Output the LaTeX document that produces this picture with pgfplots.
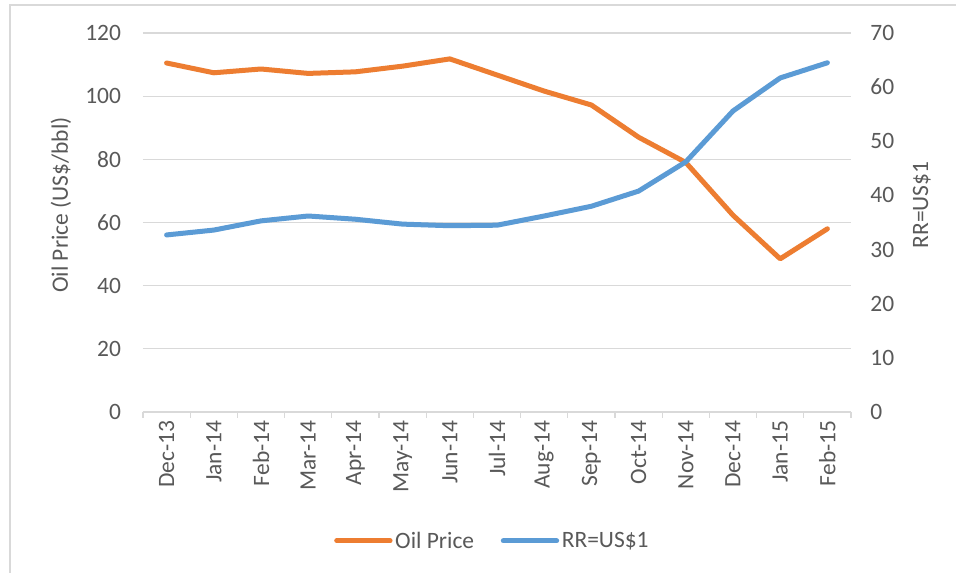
\documentclass[border=0pt]{standalone}
\usepackage{fontspec}
\setmainfont{Carlito}
\usepackage{pgfplots}
\pgfplotsset{compat=1.18}
\definecolor{oilc}{HTML}{ED7D31}
\definecolor{rrc}{HTML}{5B9BD5}
\definecolor{txt}{HTML}{595959}
\definecolor{grd}{HTML}{D9D9D9}
\newcommand{\fs}{\fontsize{17.6}{20}\selectfont}
\pgfplotstableread{
x oil rr
0 110.5 32.7
1 107.4 33.6
2 108.6 35.3
3 107.2 36.2
4 107.7 35.6
5 109.5 34.7
6 111.8 34.4
7 106.7 34.5
8 101.6 36.2
9 97.2 38.0
10 87.0 40.8
11 79.0 46.2
12 62.3 55.6
13 48.5 61.7
14 58.0 64.5
}\datatable
\begin{document}
\begin{tikzpicture}
\path[use as bounding box, clip] (0pt,0pt) rectangle (717pt,429.75pt);
\fill[white] (0pt,0pt) rectangle (717pt,429.75pt);
\draw[grd, line width=1.2pt] (7.5pt,-20pt) rectangle (740pt,426pt);
\begin{axis}[
  at={(107.25pt,120.75pt)}, anchor=south west,
  width=531pt, height=284.25pt, scale only axis,
  xmin=-0.5, xmax=14.5, ymin=0, ymax=120,
  ytick={0,20,...,120},
  xtick={0,...,14},
  xticklabels={Dec-13,Jan-14,Feb-14,Mar-14,Apr-14,May-14,Jun-14,Jul-14,Aug-14,Sep-14,Oct-14,Nov-14,Dec-14,Jan-15,Feb-15},
  minor xtick={-0.5,0.5,...,14.5},
  tick align=outside,
  major tick length=0pt,
  minor tick length=4.5pt,
  minor tick style={grd, line width=0.9pt},
  axis x line*=bottom, axis y line*=left,
  x axis line style={grd, line width=0.9pt},
  y axis line style={draw=none},
  ytick style={draw=none},
  ymajorgrids, grid style={grd, line width=0.9pt},
  /pgf/number format/assume math mode=true,
  ticklabel style={font=\fs, text=txt},
  xticklabel style={rotate=90, anchor=east, xshift=-3pt},
  yticklabel style={xshift=-13pt},
  ylabel={Oil Price (US\$/bbl)},
  ylabel style={font=\fs, text=txt, at={(axis description cs:-0.116,0.546)}, anchor=center, rotate=0},
  legend style={at={(axis description cs:0.494,-0.34)}, anchor=center, legend columns=2, draw=none, font=\fs, text=txt,
     /tikz/every even column/.append style={column sep=18pt}},
  legend image code/.code={\draw[#1, line cap=round] (0pt,0pt) -- (40pt,0pt);},
  clip=false,
]
\addplot[oilc, line width=3.75pt, line join=round, line cap=round] table[x=x, y=oil] {\datatable};
\addlegendentry{Oil Price}
\addlegendimage{rrc, line width=3.75pt}
\addlegendentry{RR=US\$1}
\end{axis}
\begin{axis}[
  at={(107.25pt,120.75pt)}, anchor=south west,
  width=531pt, height=284.25pt, scale only axis,
  xmin=-0.5, xmax=14.5, ymin=0, ymax=70,
  ytick={0,10,...,70},
  axis y line*=right,
  hide x axis,
  y axis line style={draw=none},
  ytick style={draw=none},
  /pgf/number format/assume math mode=true,
  yticklabel style={font=\fs, text=txt, xshift=11pt},
  ylabel={RR=US\$1},
  ylabel style={font=\fs, text=txt, at={(axis description cs:1.100,0.546)}, anchor=center, rotate=0},
  clip=false,
]
\addplot[rrc, line width=3.75pt, line join=round, line cap=round] table[x=x, y=rr] {\datatable};
\end{axis}
\end{tikzpicture}
\end{document}
